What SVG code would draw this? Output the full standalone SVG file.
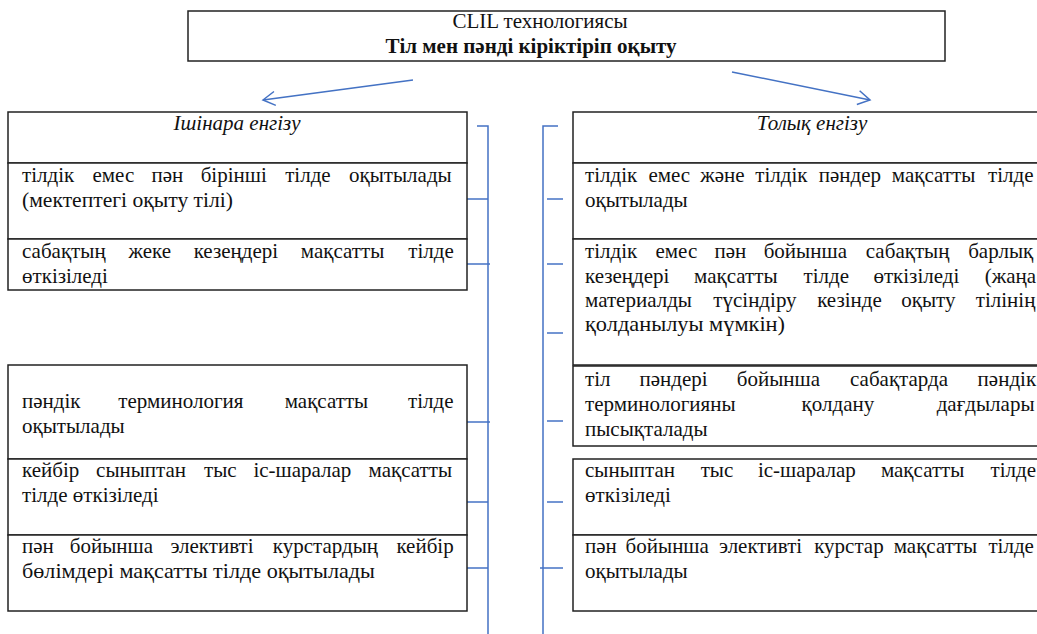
<svg xmlns="http://www.w3.org/2000/svg" width="1037" height="634" viewBox="0 0 1037 634">
<style>
.box{fill:#fff;stroke:#222;stroke-width:1.5}
.t{font-family:"Liberation Serif","DejaVu Serif","Times New Roman",serif;font-size:21px;fill:#111}
.i{font-style:italic;text-anchor:middle}
.b{font-weight:bold}
.c{text-anchor:middle}
.con{stroke:#4472C4;stroke-width:1.5;fill:none}
</style>
<defs>
<marker id="ah" markerWidth="16" markerHeight="16" refX="14" refY="8" orient="auto" markerUnits="userSpaceOnUse">
<path d="M2,1 L14,8 L2,15" fill="none" stroke="#4472C4" stroke-width="1.5"/>
</marker>
</defs>
<rect width="1037" height="634" fill="#fff"/>

<g id="title">
<rect class="box" x="188" y="11" width="757" height="50"/>
<text class="t c" x="540" y="28">CLIL технологиясы</text>
<text class="t c b" x="531" y="53">Тіл мен пәнді кіріктіріп оқыту</text>
</g>

<g id="connectors">
<line class="con" x1="413" y1="80" x2="263" y2="100" marker-end="url(#ah)"/>
<line class="con" x1="732" y1="72" x2="870" y2="100" marker-end="url(#ah)"/>
<path class="con" d="M477,126 H488 V634"/>
<line class="con" x1="467" y1="199" x2="488" y2="199"/>
<line class="con" x1="467" y1="264" x2="490" y2="264"/>
<line class="con" x1="467" y1="422" x2="490" y2="422"/>
<line class="con" x1="465" y1="502" x2="488" y2="502"/>
<line class="con" x1="465" y1="568" x2="488" y2="568"/>
<path class="con" d="M558,126 H543 V634"/>
<line class="con" x1="547" y1="199" x2="563" y2="199"/>
<line class="con" x1="547" y1="264" x2="563" y2="264"/>
<line class="con" x1="547" y1="333" x2="563" y2="333"/>
<line class="con" x1="547" y1="421" x2="563" y2="421"/>
<line class="con" x1="547" y1="502" x2="563" y2="502"/>
<line class="con" x1="540" y1="568" x2="563" y2="568"/>
</g>

<g id="left-header">
<rect class="box" x="8" y="112" width="459" height="51"/>
<text class="t i" x="237" y="130">Ішінара енгізу</text>
</g>
<g id="left-1">
<rect class="box" x="8" y="163" width="459" height="76"/>
<text class="t" y="182"><tspan x="22">тілдік</tspan><tspan x="92.5">емес</tspan><tspan x="151.4">пән</tspan><tspan x="200.7">бірінші</tspan><tspan x="285.2">тілде</tspan><tspan x="349">оқытылады</tspan></text>
<text class="t" x="22" y="207" textLength="211" lengthAdjust="spacingAndGlyphs">(мектептегі оқыту тілі)</text>
</g>
<g id="left-2">
<rect class="box" x="8" y="239" width="459" height="51"/>
<text class="t" y="258"><tspan x="22">сабақтың</tspan><tspan x="128.5">жеке</tspan><tspan x="193.7">кезеңдері</tspan><tspan x="300.8">мақсатты</tspan><tspan x="408.3">тілде</tspan></text>
<text class="t" x="22" y="283">өткізіледі</text>
</g>
<g id="left-3">
<rect class="box" x="8" y="365" width="459" height="94"/>
<text class="t" y="408"><tspan x="22">пәндік</tspan><tspan x="118.3">терминология</tspan><tspan x="284.7">мақсатты</tspan><tspan x="408.1">тілде</tspan></text>
<text class="t" x="22" y="433">оқытылады</text>
</g>
<g id="left-4">
<rect class="box" x="8" y="459" width="459" height="76"/>
<text class="t" y="477"><tspan x="22">кейбір</tspan><tspan x="96.1">сыныптан</tspan><tspan x="204">тыс</tspan><tspan x="253.4">іс-шаралар</tspan><tspan x="368.6">мақсатты</tspan></text>
<text class="t" x="22" y="502">тілде өткізіледі</text>
</g>
<g id="left-5">
<rect class="box" x="8" y="535" width="459" height="76"/>
<text class="t" y="553"><tspan x="22">пән</tspan><tspan x="69.8">бойынша</tspan><tspan x="170.4">элективті</tspan><tspan x="272.8">курстардың</tspan><tspan x="396.4">кейбір</tspan></text>
<text class="t" x="22" y="578" textLength="353" lengthAdjust="spacingAndGlyphs">бөлімдері мақсатты тілде оқытылады</text>
</g>

<g id="right-header">
<rect class="box" x="573" y="112" width="480" height="51"/>
<text class="t i" x="812" y="130">Толық енгізу</text>
</g>
<g id="right-1">
<rect class="box" x="573" y="163" width="480" height="76"/>
<text class="t" y="182"><tspan x="585">тілдік</tspan><tspan x="648.4">емес</tspan><tspan x="700.2">және</tspan><tspan x="755.3">тілдік</tspan><tspan x="818.7">пәндер</tspan><tspan x="891.8">мақсатты</tspan><tspan x="988.1">тілде</tspan></text>
<text class="t" x="585" y="207">оқытылады</text>
</g>
<g id="right-2">
<rect class="box" x="573" y="239" width="480" height="126"/>
<text class="t" y="258"><tspan x="585">тілдік</tspan><tspan x="655.5">емес</tspan><tspan x="714.4">пән</tspan><tspan x="763.7">бойынша</tspan><tspan x="865.8">сабақтың</tspan><tspan x="968.2">барлық</tspan></text>
<text class="t" y="283"><tspan x="585">кезеңдері</tspan><tspan x="694.1">мақсатты</tspan><tspan x="803.6">тілде</tspan><tspan x="873.4">өткізіледі</tspan><tspan x="984.7">(жаңа</tspan></text>
<text class="t" y="307"><tspan x="585">материалды</tspan><tspan x="713.3">түсіндіру</tspan><tspan x="817.2">кезінде</tspan><tspan x="901.2">оқыту</tspan><tspan x="975.8">тілінің</tspan></text>
<text class="t" x="585" y="331" textLength="200" lengthAdjust="spacingAndGlyphs">қолданылуы мүмкін)</text>
</g>
<g id="right-3">
<rect class="box" x="573" y="366" width="480" height="80"/>
<text class="t" y="386"><tspan x="585">тіл</tspan><tspan x="639.5">пәндері</tspan><tspan x="736.8">бойынша</tspan><tspan x="850">сабақтарда</tspan><tspan x="977.6">пәндік</tspan></text>
<text class="t" y="411"><tspan x="585">терминологияны</tspan><tspan x="801.6">қолдану</tspan><tspan x="936.7">дағдылары</tspan></text>
<text class="t" x="585" y="436">пысықталады</text>
</g>
<g id="right-4">
<rect class="box" x="573" y="459" width="480" height="76"/>
<text class="t" y="477"><tspan x="585">сыныптан</tspan><tspan x="700.7">тыс</tspan><tspan x="757.9">іс-шаралар</tspan><tspan x="880.9">мақсатты</tspan><tspan x="990.5">тілде</tspan></text>
<text class="t" x="585" y="502">өткізіледі</text>
</g>
<g id="right-5">
<rect class="box" x="573" y="535" width="480" height="76"/>
<text class="t" y="553"><tspan x="585">пән</tspan><tspan x="625.6">бойынша</tspan><tspan x="719">элективті</tspan><tspan x="814.2">курстар</tspan><tspan x="893.7">мақсатты</tspan><tspan x="988.4">тілде</tspan></text>
<text class="t" x="585" y="578">оқытылады</text>
</g>
</svg>
